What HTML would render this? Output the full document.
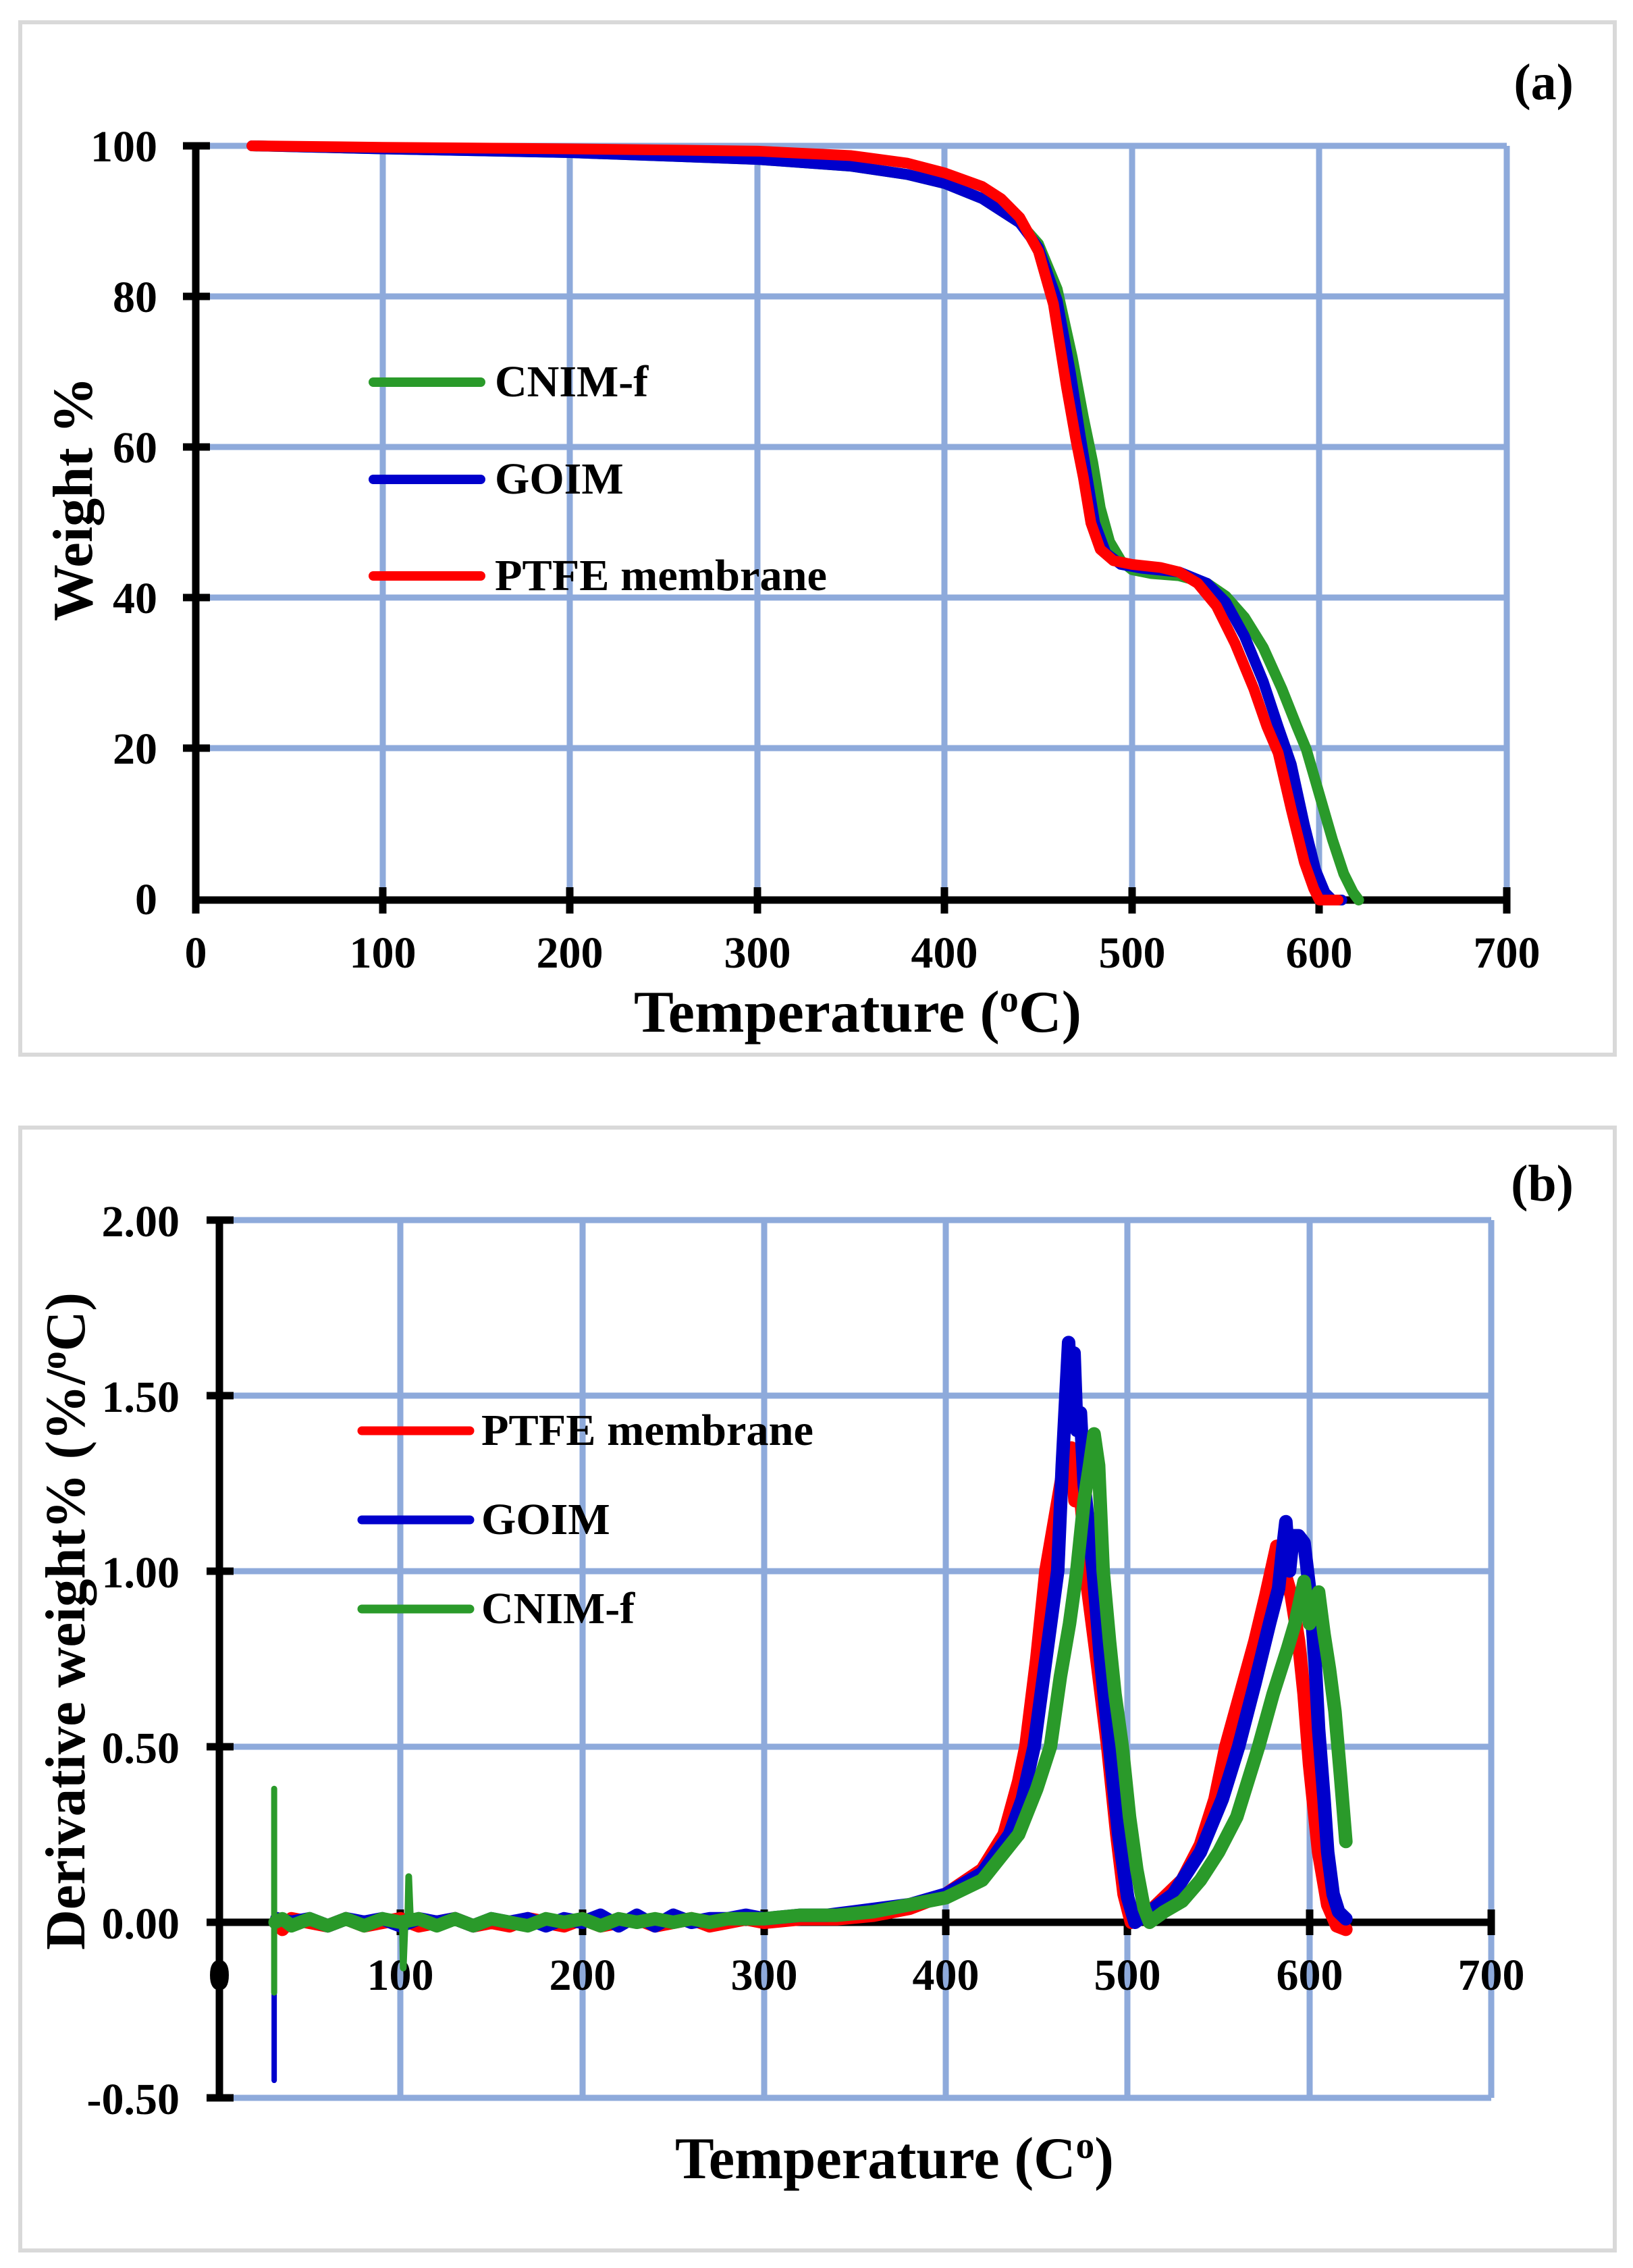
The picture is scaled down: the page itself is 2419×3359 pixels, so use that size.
<!DOCTYPE html>
<html><head><meta charset="utf-8"><style>
html,body{margin:0;padding:0;background:#fff;}
svg{display:block;}
text{font-family:"Liberation Serif",serif;font-weight:bold;fill:#000;}
</style></head><body>
<svg width="2419" height="3359" viewBox="0 0 2419 3359" xmlns="http://www.w3.org/2000/svg">
<rect x="0" y="0" width="2419" height="3359" fill="#fff"/>
<rect x="30" y="33" width="2362" height="1529" fill="none" stroke="#d9d9d9" stroke-width="6"/>
<rect x="30" y="1670" width="2362" height="1663" fill="none" stroke="#d9d9d9" stroke-width="6"/>

<!-- ===== TOP CHART ===== -->
<g stroke="#8eaadb" stroke-width="9" fill="none">
<path d="M290 216H2232M290 439H2232M290 662H2232M290 885H2232M290 1108H2232"/>
<path d="M567 216V1333M844 216V1333M1122 216V1333M1399 216V1333M1677 216V1333M1954 216V1333M2232 216V1333"/>
</g>
<g stroke="#000" stroke-width="11" fill="none">
<path d="M290 216V1333H2232"/>
<path d="M271 216H311M271 439H311M271 662H311M271 885H311M271 1108H311"/>
<path d="M290 1314V1353M567 1314V1353M844 1314V1353M1122 1314V1353M1399 1314V1353M1677 1314V1353M1954 1314V1353M2232 1314V1353"/>
</g>
<g font-size="66" text-anchor="end">
<text x="233" y="239">100</text><text x="233" y="462">80</text><text x="233" y="685">60</text>
<text x="233" y="908">40</text><text x="233" y="1131">20</text><text x="233" y="1354">0</text>
</g>
<g font-size="66" text-anchor="middle">
<text x="290" y="1433">0</text><text x="567" y="1433">100</text><text x="844" y="1433">200</text>
<text x="1122" y="1433">300</text><text x="1399" y="1433">400</text><text x="1677" y="1433">500</text>
<text x="1954" y="1433">600</text><text x="2232" y="1433">700</text>
</g>
<text x="939" y="1528" font-size="88" textLength="663" lengthAdjust="spacingAndGlyphs">Temperature (<tspan font-size="56" dy="-30">o</tspan><tspan dy="30">C)</tspan></text>
<text transform="translate(136,920) rotate(-90)" font-size="84" textLength="362" lengthAdjust="spacingAndGlyphs">Weight %</text>
<text x="2331" y="147" font-size="76" text-anchor="end">(a)</text>

<g transform="translate(290,1333) scale(2.774,-11.17)" fill="none" stroke-linejoin="round" stroke-linecap="round">
<polyline vector-effect="non-scaling-stroke" stroke="#2a9a2a" stroke-width="16" points="30,100 100,99.6 200,99.1 300,98.2 350,97.3 380,96.2 400,95 420,93 440,89.8 450,87 460,81 468,72 474,64 479,58 483,52 488,47.5 494,45 500,43.8 510,43.3 525,43 540,42 550,40.3 560,37.5 570,33.5 580,28 588,23 593,20 600,14 607,8 613,3.5 618,1 621,0"/>
<polyline vector-effect="non-scaling-stroke" stroke="#0000cc" stroke-width="16" points="30,100 100,99.6 200,99.1 300,98.2 350,97.3 380,96.2 400,95 420,93 440,89.8 450,86.5 460,79.5 467,70 472,62 476,56 480,50 486,46 494,44.5 505,44 525,43.5 540,42 550,39.5 560,35 570,29 578,23 585,18 592,10 598,4 603,1 607,0 612,0"/>
<polyline vector-effect="non-scaling-stroke" stroke="#ff0000" stroke-width="16" points="30,100 100,99.8 200,99.6 300,99.3 350,98.7 380,97.7 400,96.4 420,94.6 430,93 440,90.5 450,86 458,79 465,68 470,61 474,56 478,50 483,46.5 490,45 500,44.5 515,44.1 525,43.5 535,42 545,39 555,34 565,28 572,23 578,19.5 585,12 592,5 597,1.5 600,0 610,0"/>
</g>
<g stroke-width="14" stroke-linecap="round">
<line x1="553" y1="566" x2="712" y2="566" stroke="#2a9a2a"/>
<line x1="553" y1="710" x2="712" y2="710" stroke="#0000cc"/>
<line x1="553" y1="853" x2="712" y2="853" stroke="#ff0000"/>
</g>
<g font-size="66">
<text x="733" y="587">CNIM-f</text>
<text x="733" y="731">GOIM</text>
<text x="733" y="874" textLength="492" lengthAdjust="spacingAndGlyphs">PTFE membrane</text>
</g>

<!-- ===== BOTTOM CHART ===== -->
<g stroke="#8eaadb" stroke-width="9" fill="none">
<path d="M324 1807H2209M324 2067H2209M324 2327H2209M324 2587H2209M324 3107H2209"/>
<path d="M593 1807V3107M863 1807V3107M1132 1807V3107M1401 1807V3107M1670 1807V3107M1940 1807V3107M2209 1807V3107"/>
</g>
<g font-size="66" text-anchor="middle">
<text x="325" y="2947">0</text><text x="593" y="2947">100</text><text x="863" y="2947">200</text>
<text x="1132" y="2947">300</text><text x="1401" y="2947">400</text><text x="1670" y="2947">500</text>
<text x="1940" y="2947">600</text><text x="2209" y="2947">700</text>
</g>
<g stroke="#000" stroke-width="11" fill="none">
<path d="M325 1807V3107M325 2847H2209"/>
<path d="M306 1807H346M306 2067H346M306 2327H346M306 2587H346M306 2847H346M306 3107H346"/>
<path d="M593 2828V2866M863 2828V2866M1132 2828V2866M1401 2828V2866M1670 2828V2866M1940 2828V2866M2209 2828V2866"/>
</g>
<g font-size="66" text-anchor="end">
<text x="266" y="1831">2.00</text><text x="266" y="2091">1.50</text><text x="266" y="2351">1.00</text>
<text x="266" y="2611">0.50</text><text x="266" y="2871">0.00</text><text x="266" y="3131">-0.50</text>
</g>
<text x="1000" y="3226" font-size="88" textLength="650" lengthAdjust="spacingAndGlyphs">Temperature (C<tspan font-size="56" dy="-30">o</tspan><tspan dy="30">)</tspan></text>
<text transform="translate(125,2888) rotate(-90)" font-size="84" textLength="974" lengthAdjust="spacingAndGlyphs">Derivative weight% (%/<tspan font-size="54" dy="-28">o</tspan><tspan dy="28">C)</tspan></text>
<text x="2331" y="1778" font-size="76" text-anchor="end">(b)</text>

<g transform="translate(324,2847) scale(2.693,-520.4)" fill="none" stroke-linejoin="round" stroke-linecap="round">
<polyline vector-effect="non-scaling-stroke" stroke="#0000cc" stroke-width="8" points="30.5,-0.2 30.5,-0.45"/>
<polyline vector-effect="non-scaling-stroke" stroke="#ff0000" stroke-width="20" points="32,0.01 35,-0.02 40,0.01 50,0 60,-0.01 70,0.01 80,-0.01 90,0 100,0.01 110,-0.01 120,0 130,0.01 140,-0.01 150,0 160,-0.01 170,0.01 180,0 190,-0.01 200,0.01 210,-0.01 220,0 230,0.01 240,-0.01 250,0 260,0.01 270,-0.01 280,0 290,0.01 300,0 320,0.01 340,0.01 360,0.02 380,0.04 400,0.08 420,0.15 432,0.25 440,0.4 444,0.5 450,0.75 455,1.0 460,1.15 465,1.3 469,1.35 471,1.2 473,1.28 476,1.1 478,0.95 483,0.75 489,0.5 494,0.25 498,0.08 502,0 510,0.02 520,0.07 530,0.12 540,0.22 548,0.35 554,0.5 562,0.65 570,0.8 576,0.93 582,1.07 584,0.95 586,1.0 590,0.93 594,0.8 597,0.65 600,0.45 605,0.2 610,0.05 615,-0.01 620,-0.02"/>
<polyline vector-effect="non-scaling-stroke" stroke="#0000cc" stroke-width="20" points="32,0.01 40,0 50,0.01 60,-0.01 70,0.01 80,0 90,0.01 100,-0.01 110,0.01 120,0 130,0.01 140,-0.01 150,0.01 160,0 170,0.01 180,-0.01 190,0.01 200,0 210,0.02 220,-0.01 230,0.02 240,-0.01 250,0.02 260,0 270,0.01 280,0.01 290,0.02 300,0.01 320,0.02 335,0.02 350,0.03 380,0.05 400,0.08 420,0.14 435,0.25 442,0.35 448.5,0.5 455,0.75 461.5,1.0 464,1.3 466,1.5 467.5,1.65 469,1.45 470.5,1.62 472,1.4 474,1.45 476,1.25 479,1.1 481,1.0 485,0.75 490,0.5 495,0.25 500,0.07 504,0 512,0.03 525,0.08 540,0.2 552,0.35 561,0.5 570,0.68 578,0.85 583,0.95 585,1.05 587,1.14 589,1.0 591,1.1 594,1.1 597,1.08 600,0.95 603,0.75 605,0.55 608,0.35 610,0.2 613,0.08 616,0.03 620,0.01"/>
<polyline vector-effect="non-scaling-stroke" stroke="#2a9a2a" stroke-width="9" points="30.5,0.38 30.5,-0.2"/>
<polyline vector-effect="non-scaling-stroke" stroke="#2a9a2a" stroke-width="10" points="101,0 101.5,-0.13 102.5,0 104,0 104.5,0.13 105.5,0"/>
<polyline vector-effect="non-scaling-stroke" stroke="#2a9a2a" stroke-width="20" points="31,0 35,0.01 40,-0.01 50,0.01 60,-0.01 70,0.01 80,-0.01 90,0.01 100,0 110,0.01 120,-0.01 130,0.01 140,-0.01 150,0.01 160,0 170,-0.01 180,0.01 190,0 200,0.01 210,-0.01 220,0.01 230,0 240,0.01 250,0 260,0.01 270,0 280,0.01 300,0.01 320,0.02 340,0.02 360,0.03 380,0.05 400,0.07 420,0.12 440,0.25 450,0.38 457.5,0.5 463,0.7 468,0.85 472,1.0 476,1.2 479,1.3 481.5,1.39 484,1.3 486.5,1.0 490,0.8 493,0.65 497,0.5 501,0.3 505,0.15 509,0.04 512,0 520,0.03 530,0.06 540,0.12 550,0.2 560,0.3 572,0.5 580,0.65 588,0.78 592,0.85 597,0.97 600,0.85 603,0.88 605,0.94 608,0.82 611,0.72 614,0.6 617,0.42 620,0.23"/>
</g>
<g stroke-width="13" stroke-linecap="round">
<line x1="536" y1="2119" x2="696" y2="2119" stroke="#ff0000"/>
<line x1="536" y1="2251" x2="696" y2="2251" stroke="#0000cc"/>
<line x1="536" y1="2383" x2="696" y2="2383" stroke="#2a9a2a"/>
</g>
<g font-size="66">
<text x="713" y="2140" textLength="492" lengthAdjust="spacingAndGlyphs">PTFE membrane</text>
<text x="713" y="2272">GOIM</text>
<text x="713" y="2404">CNIM-f</text>
</g>
</svg>
</body></html>
